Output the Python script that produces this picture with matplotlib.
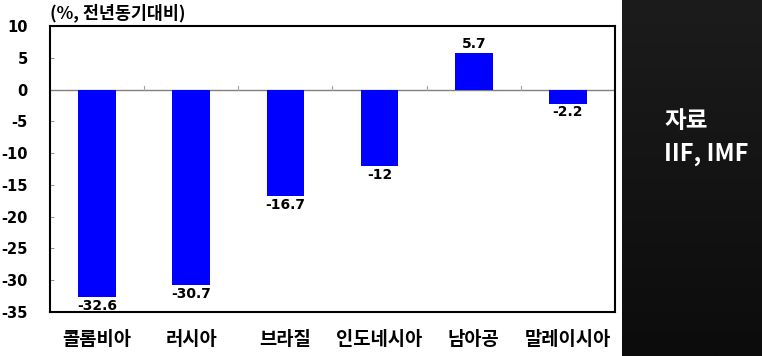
import matplotlib.pyplot as plt
import numpy as np
from matplotlib.colors import LinearSegmentedColormap

plt.rcParams['font.family'] = ['Noto Sans CJK KR', 'DejaVu Sans']

countries = ['콜롬비아', '러시아', '브라질', '인도네시아', '남아공', '말레이시아']
values = [-32.6, -30.7, -16.7, -12, 5.7, -2.2]
labels = ['-32.6', '-30.7', '-16.7', '-12', '5.7', '-2.2']
yticks = [10, 5, 0, -5, -10, -15, -20, -25, -30, -35]

fig = plt.figure(figsize=(7.62, 3.56), dpi=100)
fig.patch.set_facecolor('white')

# dark side panel
grad = np.linspace(0, 1, 256).reshape(-1, 1)
pan = fig.add_axes([622/762, 0, 140/762, 1])
pan.imshow(grad, aspect='auto', cmap=LinearSegmentedColormap.from_list('g', ['#1c1c1c', '#0c0c0c']),
           extent=[0, 1, 0, 1])
pan.set_axis_off()
pan.text(0.3, 0.66, '자료', color='white', fontsize=17, fontweight='bold', va='center', transform=pan.transAxes)
pan.text(0.3, 0.567, 'IIF, IMF', color='white', fontsize=17, fontweight='bold', va='center', transform=pan.transAxes)

ax = fig.add_axes([50/762, 1 - 312/356, 565/762, 286/356])
x = np.arange(len(countries))
ax.bar(x, values, width=0.4, color='#0000ff', zorder=3)
ax.set_xlim(-0.5, len(countries) - 0.5)
ax.set_ylim(-35, 10)
ax.set_yticks(yticks)
ax.set_yticklabels([str(t) for t in yticks], fontsize=10.5, fontweight='bold', family='DejaVu Sans')
ax.tick_params(axis='y', direction='in', length=3, width=0.6, color='#808080', pad=16)
ax.set_xticks([])

# zero line with category separators
ax.axhline(0, color='#808080', lw=1, zorder=2)
for b in np.arange(0.5, len(countries) - 0.5):
    ax.plot([b, b], [0, 0.6], color='#a0a0a0', lw=0.8, zorder=2)

for s in ax.spines.values():
    s.set_linewidth(1.5)
    s.set_color('black')

for xi, v, lab in zip(x, values, labels):
    if v >= 0:
        ax.text(xi, v + 0.4, lab, ha='center', va='bottom', fontsize=10, fontweight='bold', family='DejaVu Sans')
    else:
        ax.text(xi, v - 0.3, lab, ha='center', va='top', fontsize=10, fontweight='bold', family='DejaVu Sans')

for xi, c in zip(x, countries):
    ax.text(xi, -39.4, c, ha='center', va='center', fontsize=13.5, fontweight='bold', clip_on=False)

ax.text(0, 1.012, '(%, 전년동기대비)', transform=ax.transAxes, ha='left', va='bottom',
        fontsize=12.5, fontweight='bold')

fig.savefig('out.png', dpi=100)
